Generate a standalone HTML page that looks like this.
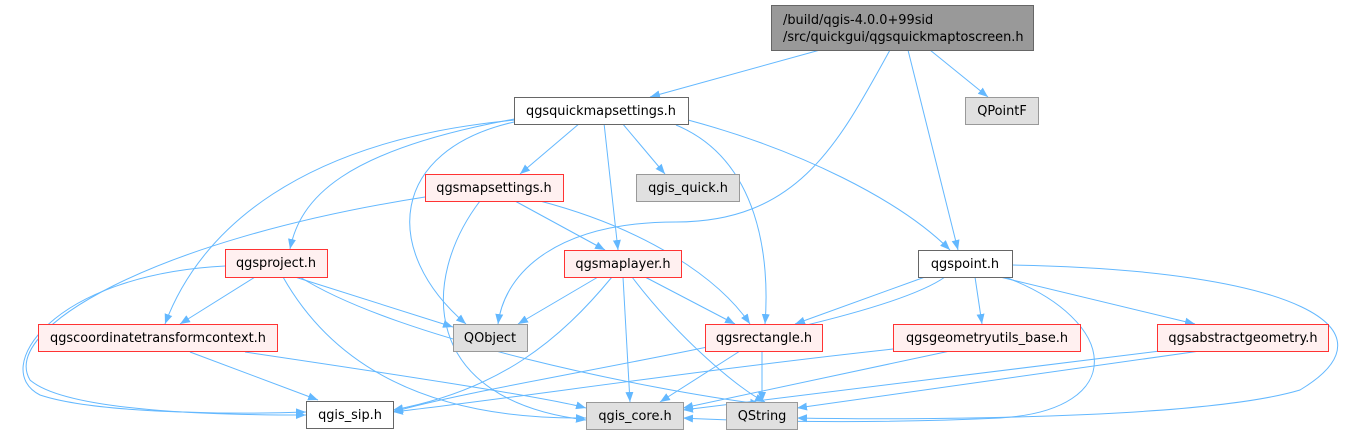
<!DOCTYPE html>
<html><head><meta charset="utf-8"><style>
body{margin:0;background:#fff;width:1350px;height:434px;overflow:hidden}
svg{display:block}
text{font-family:"DejaVu Sans","Liberation Sans",sans-serif;font-size:12.9px;fill:#000}
.e{fill:none;stroke:#63b8ff;stroke-width:1}
</style></head><body>
<svg width="1350" height="434" viewBox="0 0 1350 434">
<defs><marker id="a" viewBox="0 0 10 10" refX="10" refY="5" markerWidth="10" markerHeight="10" markerUnits="userSpaceOnUse" orient="auto"><path d="M0,1 L10,5 L0,9z" fill="#63b8ff"/></marker></defs>
<g class="e" marker-end="url(#a)">
<path d="M820,50 L650,97"/>
<path d="M890,50 C840,140 800,222 676,222 C560,222 505,270 498,324"/>
<path d="M908,50 L958,250"/>
<path d="M930,50 L988,97"/>
<path d="M520,118 C340,150 300,200 290,249"/>
<path d="M515,120 C300,140 200,230 165,324"/>
<path d="M514,122 C390,150 380,250 466,324"/>
<path d="M580,123 L520,174"/>
<path d="M622,123 L665,174"/>
<path d="M604,123 L618,250"/>
<path d="M676,125 C760,160 770,260 765,324"/>
<path d="M688,120 C800,150 900,200 950,250"/>
<path d="M425,197 C150,240 0,330 30,380 C70,415 250,415 306,415"/>
<path d="M480,201 C420,280 420,400 586,420"/>
<path d="M515,201 L605,250"/>
<path d="M540,201 C650,230 720,280 750,324"/>
<path d="M225,266 C50,275 -10,370 40,395 C100,415 250,414 306,412"/>
<path d="M255,277 L180,324"/>
<path d="M295,277 L453,327"/>
<path d="M283,277 C330,360 420,420 586,418"/>
<path d="M300,277 C400,340 650,390 760,404"/>
<path d="M598,277 L518,324"/>
<path d="M612,277 C560,340 500,390 393,410"/>
<path d="M623,277 L630,402"/>
<path d="M632,277 C680,340 740,390 765,402"/>
<path d="M645,277 L735,324"/>
<path d="M740,351 L660,402"/>
<path d="M762,351 L762,402"/>
<path d="M190,352 L318,400"/>
<path d="M245,352 C400,375 550,398 586,408"/>
<path d="M925,277 L795,324"/>
<path d="M945,277 C870,330 500,380 393,412"/>
<path d="M975,277 L982,324"/>
<path d="M1000,277 L1195,324"/>
<path d="M1005,277 C1120,320 1130,410 1000,418 C850,425 720,420 683,418"/>
<path d="M1012,265 C1300,270 1400,330 1300,390 C1200,420 900,420 797,418"/>
<path d="M893,349 C700,370 500,400 393,412"/>
<path d="M950,351 L683,408"/>
<path d="M1160,351 L683,410"/>
<path d="M1200,351 L797,408"/>
</g>
<g stroke-width="1">
<rect x="771.5" y="5.5" width="262" height="45" fill="#999" stroke="#666"/>
<rect x="514.5" y="97.5" width="174" height="27" fill="#fff" stroke="#666"/>
<rect x="965.5" y="97.5" width="73" height="27" fill="#e0e0e0" stroke="#999"/>
<rect x="425.5" y="174.5" width="138" height="27" fill="#fff0f0" stroke="#f33"/>
<rect x="636.5" y="174.5" width="103" height="27" fill="#e0e0e0" stroke="#999"/>
<rect x="225.5" y="249.5" width="102" height="28" fill="#fff0f0" stroke="#f33"/>
<rect x="564.5" y="250.5" width="117" height="27" fill="#fff0f0" stroke="#f33"/>
<rect x="918.5" y="250.5" width="94" height="27" fill="#fff" stroke="#666"/>
<rect x="38.5" y="324.5" width="239" height="27" fill="#fff0f0" stroke="#f33"/>
<rect x="453.5" y="324.5" width="74" height="27" fill="#e0e0e0" stroke="#999"/>
<rect x="705.5" y="324.5" width="117" height="27" fill="#fff0f0" stroke="#f33"/>
<rect x="893.5" y="324.5" width="187" height="27" fill="#fff0f0" stroke="#f33"/>
<rect x="1157.5" y="324.5" width="171" height="27" fill="#fff0f0" stroke="#f33"/>
<rect x="306.5" y="401.5" width="87" height="27" fill="#fff" stroke="#666"/>
<rect x="586.5" y="402.5" width="97" height="27" fill="#e0e0e0" stroke="#999"/>
<rect x="726.5" y="402.5" width="71" height="27" fill="#e0e0e0" stroke="#999"/>
</g>
<text x="783" y="24">/build/qgis-4.0.0+99sid</text>
<text x="783" y="41">/src/quickgui/qgsquickmaptoscreen.h</text>
<g text-anchor="middle">
<text x="601" y="115">qgsquickmapsettings.h</text>
<text x="1002" y="115">QPointF</text>
<text x="494" y="192">qgsmapsettings.h</text>
<text x="688" y="192">qgis_quick.h</text>
<text x="276" y="267">qgsproject.h</text>
<text x="623" y="268">qgsmaplayer.h</text>
<text x="965" y="268">qgspoint.h</text>
<text x="158" y="342">qgscoordinatetransformcontext.h</text>
<text x="490" y="342">QObject</text>
<text x="764" y="342">qgsrectangle.h</text>
<text x="987" y="342">qgsgeometryutils_base.h</text>
<text x="1243" y="342">qgsabstractgeometry.h</text>
<text x="350" y="419">qgis_sip.h</text>
<text x="635" y="420">qgis_core.h</text>
<text x="762" y="420">QString</text>
</g>
</svg>
</body></html>
